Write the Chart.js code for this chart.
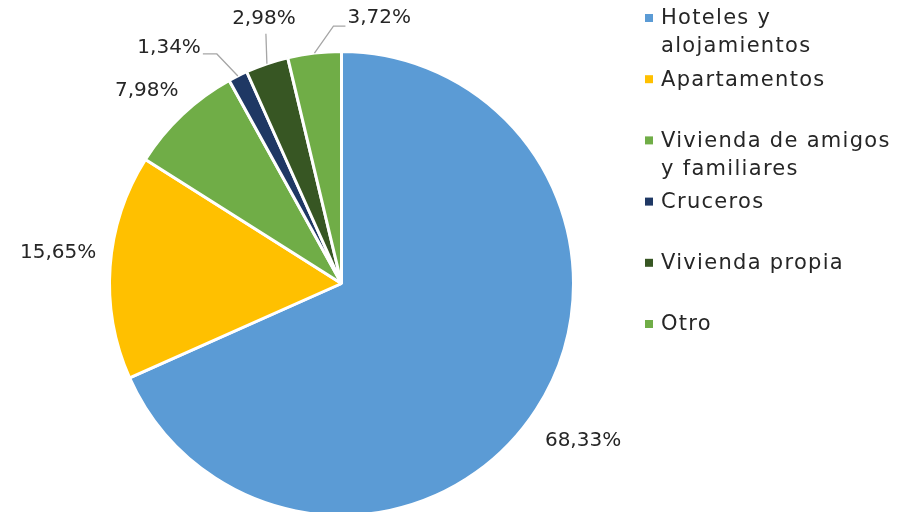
<!DOCTYPE html>
<html><head><meta charset="utf-8">
<script src="https://cdn.jsdelivr.net/npm/chart.js@4.4.0/dist/chart.umd.min.js"></script>
<style>
html,body{margin:0;padding:0;background:#fff;overflow:hidden;width:906px;height:512px;}
#wrap{position:relative;width:906px;height:560px;}
</style></head>
<body><div id="wrap"><canvas id="c" width="906" height="560"></canvas></div>
<script>
const categories = ["Hoteles y alojamientos","Apartamentos","Vivienda de amigos y familiares","Cruceros","Vivienda propia","Otro"];
const legendLines = [["Hoteles y","alojamientos"],["Apartamentos"],["Vivienda de amigos","y familiares"],["Cruceros"],["Vivienda propia"],["Otro"]];
const values = [68.33, 15.65, 7.98, 1.34, 2.98, 3.72];
const valueLabels = ["68,33%","15,65%","7,98%","1,34%","2,98%","3,72%"];
const colors = ["#5B9BD5","#FFC000","#70AD47","#1F3864","#375623","#70AD47"];

const FONT = '"DejaVu Sans", sans-serif';
const TEXT = '#262626';

const labelPlugin = {
  id: 'labels',
  afterDraw(chart) {
    const ctx = chart.ctx;
    const meta = chart.getDatasetMeta(0);
    ctx.save();
    ctx.font = '20px ' + FONT;
    ctx.fillStyle = TEXT;
    ctx.textBaseline = 'middle';
    meta.data.forEach((arc, i) => {
      const p = arc.getProps(['x','y','startAngle','endAngle','outerRadius'], true);
      const mid = (p.startAngle + p.endAngle) / 2;
      const r = p.outerRadius;
      const edge = {x: p.x + Math.cos(mid) * r, y: p.y + Math.sin(mid) * r};
      const polar = (a, d) => ({x: p.x + Math.cos(a) * d, y: p.y + Math.sin(a) * d});
      ctx.strokeStyle = '#A6A6A6';
      ctx.lineWidth = 1.3;
      if (i === 0 || i === 1 || i === 2) {
        const adj = [0, 2, -2][i] * Math.PI / 180;
        const dist = r + [56, 53, 42][i];
        const q = polar(mid + adj, dist);
        ctx.textAlign = 'center';
        ctx.fillText(valueLabels[i], q.x, q.y);
      } else if (i === 3) {
        const e = {x: edge.x - 21, y: edge.y - 22};
        const f = {x: edge.x - 35, y: e.y};
        ctx.beginPath(); ctx.moveTo(edge.x, edge.y); ctx.lineTo(e.x, e.y); ctx.lineTo(f.x, f.y); ctx.stroke();
        ctx.textAlign = 'right';
        ctx.fillText(valueLabels[i], f.x - 2, f.y - 6);
      } else if (i === 4) {
        const e = {x: edge.x - 1, y: edge.y - 30};
        ctx.beginPath(); ctx.moveTo(edge.x, edge.y); ctx.lineTo(e.x, e.y); ctx.stroke();
        ctx.textAlign = 'center';
        ctx.fillText(valueLabels[i], e.x - 2, e.y - 15);
      } else {
        const e = {x: edge.x + 19, y: edge.y - 27};
        const f = {x: edge.x + 31, y: e.y};
        ctx.beginPath(); ctx.moveTo(edge.x, edge.y); ctx.lineTo(e.x, e.y); ctx.lineTo(f.x, f.y); ctx.stroke();
        ctx.textAlign = 'left';
        ctx.fillText(valueLabels[i], f.x + 2, f.y - 8);
      }
    });
    // legend
    ctx.font = '21px ' + FONT;
    ctx.letterSpacing = '1.3px';
    ctx.textAlign = 'left';
    legendLines.forEach((lines, i) => {
      const y0 = 18 + i * 61.2;
      ctx.fillStyle = colors[i];
      ctx.fillRect(645, y0 - 4, 8, 8);
      ctx.fillStyle = TEXT;
      lines.forEach((t, j) => ctx.fillText(t, 661, y0 + 1 + j * 28));
    });
    ctx.restore();
  }
};

new Chart(document.getElementById('c'), {
  type: 'pie',
  data: {
    labels: categories,
    datasets: [{
      data: values,
      backgroundColor: colors,
      borderColor: '#ffffff',
      borderWidth: 3
    }]
  },
  options: {
    responsive: false,
    animation: false,
    layout: {padding: {left: 108, right: 331, top: 50, bottom: 43}},
    plugins: {legend: {display: false}, tooltip: {enabled: false}}
  },
  plugins: [labelPlugin]
});
</script></body></html>
